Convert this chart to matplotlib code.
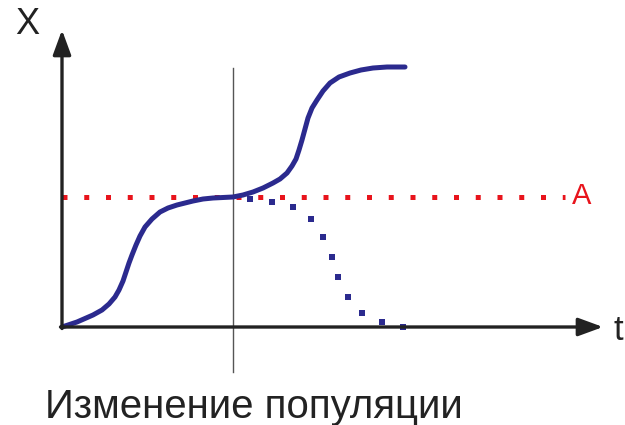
import matplotlib.pyplot as plt

plt.rcParams['font.family'] = ['Liberation Sans', 'DejaVu Sans']

# main growth curve (t, X), origin at the axes corner
t_main = [0, 15, 31, 40, 47, 53, 57, 61, 64, 67, 70, 74, 78, 83, 90, 98, 106, 115,
          131, 141, 151, 161, 171, 181, 191, 201, 211, 218, 225, 230, 234, 237,
          240, 243, 246, 250, 255, 261, 268, 277, 288, 299, 311, 325, 343]
x_main = [0, 5, 12, 17, 23, 30, 37, 46, 55, 64, 72, 82, 91, 100, 108, 115, 119, 122,
          126, 128, 129, 129.5, 130, 132, 135, 139, 144, 148, 154, 161, 168, 177,
          187, 198, 209, 219, 227, 236, 244, 250, 254, 257, 259, 260, 260]

# dots of the branch after the change of population
t_drop = [188, 210, 231, 249, 261, 270, 276, 286, 300, 320, 341]
x_drop = [128, 125, 120, 108, 90, 70, 50, 30, 14, 5, 0]

level_a = 130
t_change = 171

fig = plt.figure(figsize=(6.25, 4.25), dpi=100)
ax = fig.add_axes([0, 0, 1, 1])
ax.set_xlim(-62, 563)
ax.set_ylim(-98, 327)
ax.axis('off')

navy = '#2b2a8e'
ax_col = '#222222'

# axes with arrows
ax.annotate('', xy=(0, 297), xytext=(0, -1.5),
            arrowprops=dict(arrowstyle='-|>,head_length=1.5,head_width=0.55',
                            lw=2.4, color=ax_col, shrinkA=0, shrinkB=0))
ax.annotate('', xy=(541, 0), xytext=(-1.5, 0),
            arrowprops=dict(arrowstyle='-|>,head_length=1.5,head_width=0.55',
                            lw=2.4, color=ax_col, shrinkA=0, shrinkB=0))

# vertical marker line
ax.plot([t_change, t_change], [259, -45], color='#555555', lw=1.0)

# level A
ax.plot([0, 503], [level_a, level_a], color='#e8141c', lw=3.6,
        linestyle=(0, (1, 3.35)))
ax.text(510, level_a + 1, 'A', color='#e8141c', fontsize=21, va='center', ha='left')

ax.plot(t_drop, x_drop, color=navy, linestyle='none', marker='s',
        markersize=4.0, markeredgewidth=0)
ax.plot(t_main, x_main, color=navy, lw=3.6, solid_capstyle='round',
        solid_joinstyle='round')

ax.text(-35, 303, 'X', fontsize=26, color=ax_col, ha='center', va='center')
ax.text(551, -3, 't', fontsize=25, color=ax_col, ha='left', va='center')
ax.text(192, -91, 'Изменение популяции', fontsize=29, color=ax_col,
        ha='center', va='baseline')

fig.savefig('out.png', dpi=100, facecolor='white')
